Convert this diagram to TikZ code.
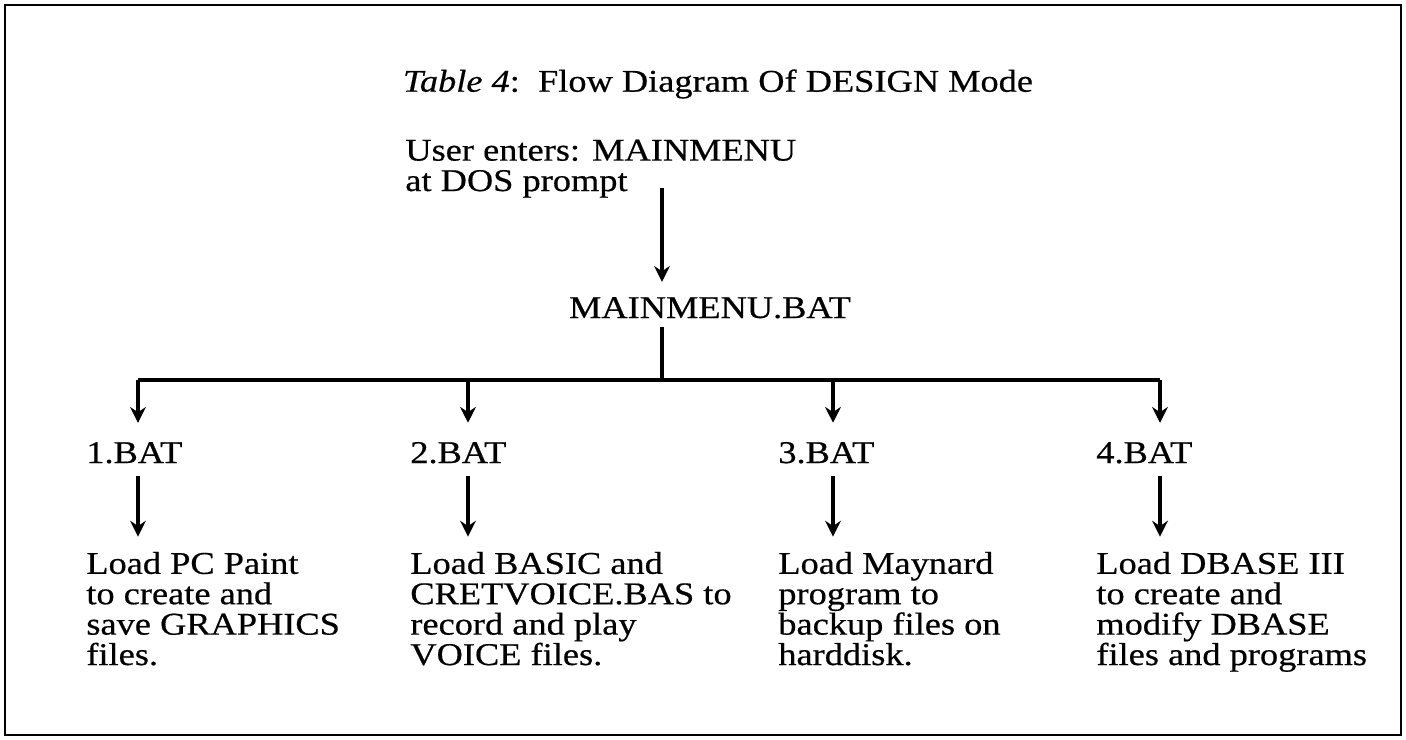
\documentclass[tikz,border=0pt]{standalone}
\usepackage{fontspec}
\setmainfont{Liberation Serif}[FakeStretch=1.15, FakeBold=0.5]
\usetikzlibrary{arrows.meta, positioning, calc}

\begin{document}
\begin{tikzpicture}[x=0.02cm, y=-0.02cm,
  txt/.style={font=\fontsize{18}{17.3}\selectfont, inner sep=0pt, align=left},
  bar/.style={line width=1.8pt},
  arr/.style={line width=1.8pt, -{Stealth[length=9pt, width=9pt, inset=3pt]}}]
  \useasboundingbox (0,0) rectangle (1406,740);
  \draw [line width=1.2pt] (5,5) rectangle (1401,735);

  \node [txt] (title) at (718,84) {\textit{Table 4}:\ \ Flow Diagram Of DESIGN Mode};
  \node [txt, anchor=base west] (user) at (405,191) {User enters: MAINMENU\\at DOS prompt};
  \node [txt, anchor=base] (main) at (710,318) {MAINMENU.BAT};

  \coordinate (split) at (662,380);
  \coordinate (left) at (138,380);
  \coordinate (right) at (1160,380);

  \draw [arr] ([yshift=6pt]user.south -| split) -- ([yshift=8.5pt]main.north -| split);
  \draw [bar] ([yshift=-4.5pt]main.south -| split) -- (split);
  \draw [bar] (left) -- (right);

  \node [txt, anchor=base west] (bat1) at (86,463) {1.BAT};
  \node [txt, anchor=base west] (bat2) at (410,463) {2.BAT};
  \node [txt, anchor=base west] (bat3) at (778,463) {3.BAT};
  \node [txt, anchor=base west] (bat4) at (1096,463) {4.BAT};

  \draw [arr] (left) -- ([yshift=10.8pt]bat1.north -| left);
  \draw [arr] (468,380) -- ([yshift=10.8pt]bat2.north -| 468,0);
  \draw [arr] (833,380) -- ([yshift=10.8pt]bat3.north -| 833,0);
  \draw [arr] (right) -- ([yshift=10.8pt]bat4.north -| right);

  \node [txt, anchor=base west] (load1) at (86,665) {Load PC Paint\\to create and\\save GRAPHICS\\files.};
  \node [txt, anchor=base west] (load2) at (410,665) {Load BASIC and\\CRETVOICE.BAS to\\record and play\\VOICE files.};
  \node [txt, anchor=base west] (load3) at (778,665) {Load Maynard\\program to\\backup files on\\harddisk.};
  \node [txt, anchor=base west] (load4) at (1096,665) {Load DBASE III\\to create and\\modify DBASE\\files and programs};

  \draw [arr] ([yshift=-6.8pt]bat1.south -| left) -- ([yshift=8.5pt]load1.north -| left);
  \draw [arr] ([yshift=-6.8pt]bat2.south -| 468,0) -- ([yshift=8.5pt]load2.north -| 468,0);
  \draw [arr] ([yshift=-6.8pt]bat3.south -| 833,0) -- ([yshift=8.5pt]load3.north -| 833,0);
  \draw [arr] ([yshift=-6.8pt]bat4.south -| right) -- ([yshift=8.5pt]load4.north -| right);
\end{tikzpicture}
\end{document}
